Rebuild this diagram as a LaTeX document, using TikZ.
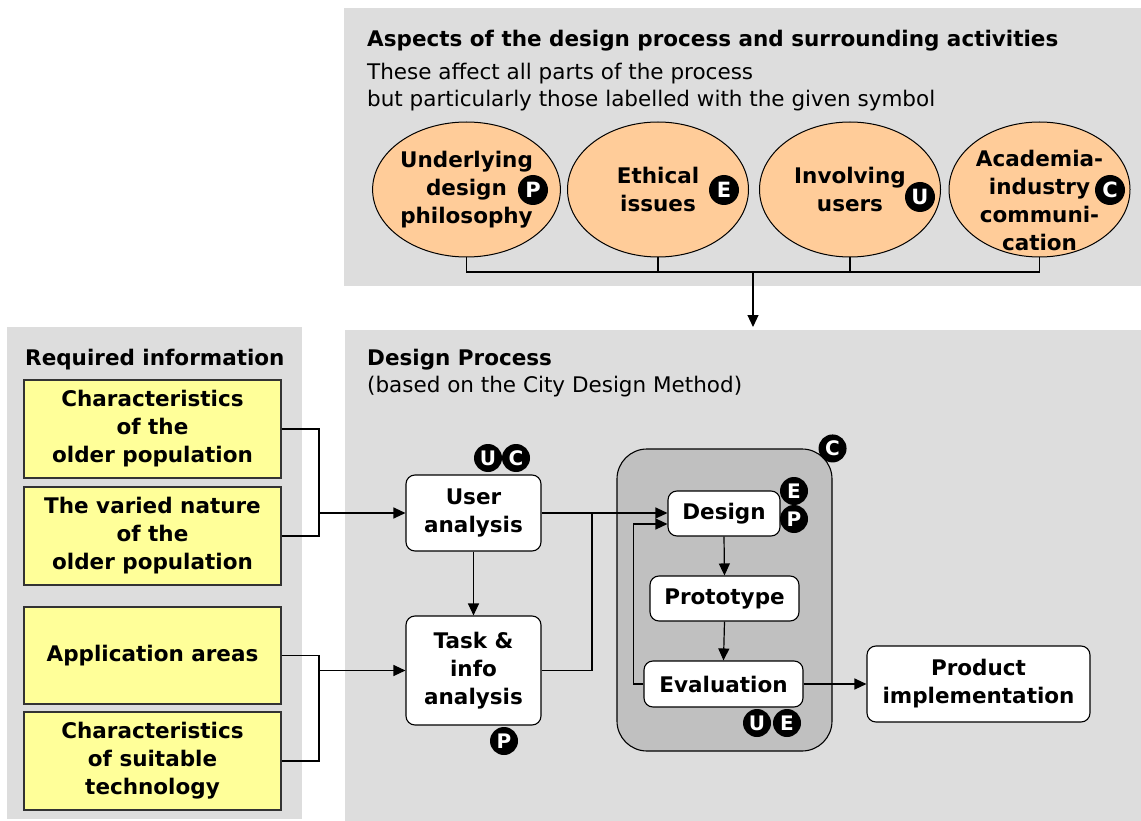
\documentclass[tikz,border=0pt]{standalone}
\usepackage{fontspec}
\setmainfont{DejaVu Sans}
\usetikzlibrary{arrows.meta,shapes.geometric}

\definecolor{panelgray}{HTML}{DDDDDD}
\definecolor{loopgray}{HTML}{C0C0C0}
\definecolor{peach}{HTML}{FFCC99}
\definecolor{paleyellow}{HTML}{FFFF99}

\begin{document}
\begin{tikzpicture}[x=1pt,y=-1pt,
  txt/.style={font=\fontsize{21.5}{28}\selectfont},
  btxt/.style={font=\fontsize{21.5}{28}\selectfont\bfseries},
  panel/.style={fill=panelgray, inner sep=0pt, outer sep=0pt, anchor=north west},
  heading/.style={btxt, anchor=base west, inner sep=0pt},
  note/.style={txt, anchor=base west, inner sep=0pt},
  aspect/.style={ellipse, draw=black, line width=1pt, fill=peach, minimum width=181pt,
                 minimum height=135pt, inner sep=0pt, align=center, btxt},
  infobox/.style={draw=black!80, line width=1.2pt, fill=paleyellow, minimum width=257pt,
                  inner sep=0pt, align=center, btxt},
  stage/.style={draw=black, line width=1.1pt, fill=white, rounded corners=9pt,
                inner sep=0pt, align=center, btxt},
  badge/.style={circle, fill=black, text=white, inner sep=0pt, minimum size=28pt,
                font=\fontsize{20}{20}\selectfont\bfseries},
  bigbadge/.style={badge, minimum size=30pt, font=\fontsize{21}{21}\selectfont\bfseries},
  link/.style={line width=1.2pt},
  arr/.style={link, -{Triangle[length=12pt,width=11pt]}},
]
\useasboundingbox (0,0) rectangle (1141,821);
\fill[white] (0,0) rectangle (1141,821);

% ---------- panels ----------
\node[panel, minimum width=797pt, minimum height=278pt] (ap) at (344,8) {};
\node[panel, minimum width=295pt, minimum height=492pt] (rp) at (7,327) {};
\node[panel, minimum width=796pt, minimum height=491pt] (dp) at (345,330) {};

% ---------- aspects of the design process ----------
\node[heading] (aptitle) at (367,47) {Aspects of the design process and surrounding activities};
\node[note] (apnote1) at (367,80) {These affect all parts of the process};
\node[note] (apnote2) at (367,107) {but particularly those labelled with the given symbol};

\node[aspect] (e1) at (466.5,189.5) {Underlying\\design\\philosophy};
\node[aspect] (e2) at (658,189.5) {Ethical\\issues};
\node[aspect] (e3) at (850,189.5) {Involving\\users};
\node[aspect] (e4) at (1039.5,189.5) {};
\node[btxt, align=center, inner sep=0pt] (e4text) at (1039.5,200)
  {Academia-\\industry\\communi-\\cation};

\node[bigbadge] (bp1) at (533,190) {P};
\node[bigbadge] (be1) at (724,190) {E};
\node[bigbadge] (bu1) at (920,197) {U};
\node[bigbadge] (bc1) at (1110,190) {C};

\coordinate (bus) at (753,272);
\draw[link] (e1.south) -- (e1.south |- bus) -- (e4.south |- bus) -- (e4.south);
\draw[link] (e2.south) -- (e2.south |- bus);
\draw[link] (e3.south) -- (e3.south |- bus);
\draw[arr] (bus) -- ([yshift=3pt]dp.north -| bus);

% ---------- required information ----------
\node[heading] (rptitle) at (25,365) {Required information};
\node[infobox, minimum height=98pt] (y1) at (152.5,429) {Characteristics\\of the\\older population};
\node[infobox, minimum height=98pt] (y2) at (152.5,536) {The varied nature\\of the\\older population};
\node[infobox, minimum height=97pt] (y3) at (152.5,655.5) {Application areas};
\node[infobox, minimum height=98pt] (y4) at (152.5,761) {Characteristics\\of suitable\\technology};

% ---------- design process ----------
\node[heading] (dptitle) at (367,365) {Design Process};
\node[note] (dpnote) at (367,392) {(based on the City Design Method)};

\node[draw=black, line width=1.1pt, fill=loopgray, rounded corners=30pt,
      minimum width=215pt, minimum height=302pt, inner sep=0pt] (loop) at (724.5,600) {};

\node[stage, minimum width=135pt, minimum height=76pt] (ua) at (473.5,513) {User\\analysis};
\node[stage, minimum width=135pt, minimum height=109pt] (ta) at (473.5,670.5) {Task \&\\info\\analysis};
\node[stage, minimum width=112pt, minimum height=45pt] (des) at (724,513.5) {Design};
\node[stage, minimum width=149pt, minimum height=45pt] (pro) at (724.5,598.5) {Prototype};
\node[stage, minimum width=159pt, minimum height=46pt] (ev) at (723.5,684) {Evaluation};
\node[stage, minimum width=223pt, minimum height=76pt] (pi) at (978.5,684) {Product\\implementation};

\node[badge] (bu2) at (488,458) {U};
\node[badge] (bc2) at (516,458) {C};
\node[badge] (bp2) at (504,741) {P};
\node[badge] (bc3) at (loop.north east) {C};
\node[badge] (be2) at (794,491) {E};
\node[badge] (bp3) at (794,519) {P};
\node[badge] (bu3) at (757,723) {U};
\node[badge] (be3) at (787,723) {E};

% ---------- connectors ----------
\coordinate (j1) at (319,513);
\coordinate (j2) at (319,670.5);
\coordinate (j3) at (592,513);
\draw[link] (y1.east) -| (j1);
\draw[link] (y2.east) -| (j1);
\draw[arr] (j1) -- (ua.west);
\draw[link] (y3.east) -| (j2);
\draw[link] (y4.east) -| (j2);
\draw[arr] (j2) -- (ta.west);

\draw[arr] (ua.south) -- (ta.north);
\draw[arr] (ua.east) -- (ua.east -| des.west);
\draw[link] (ta.east) -| (j3);

\draw[arr] (des.south) -- (pro.north);
\draw[arr] (pro.south) -- (ev.north);
\draw[arr] (ev.west) -- ++(-10,0) |- ([yshift=-10.5pt]des.west);
\draw[arr] (ev.east) -- (pi.west);
\end{tikzpicture}
\end{document}
